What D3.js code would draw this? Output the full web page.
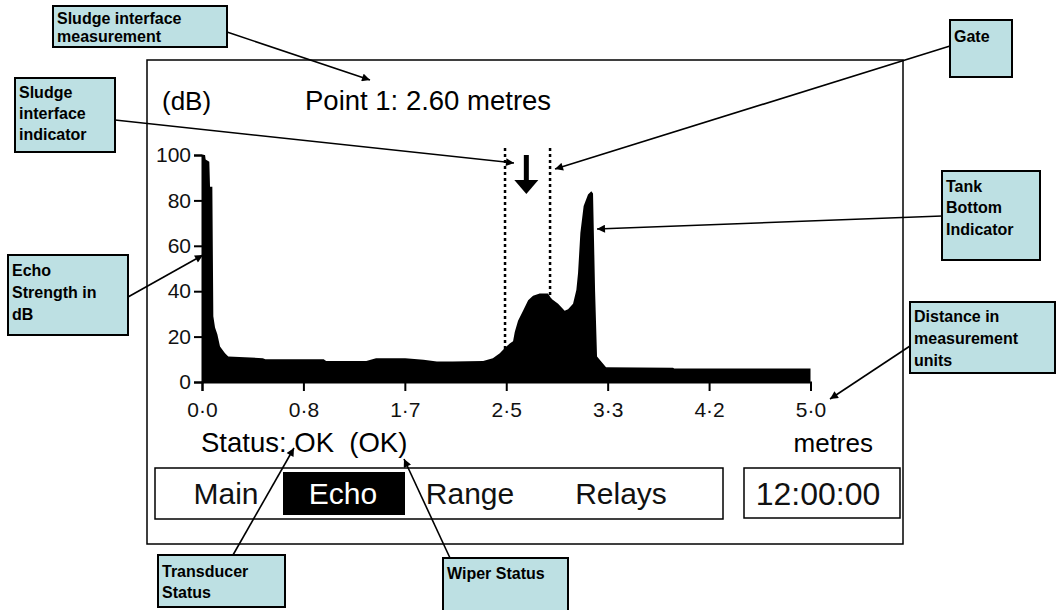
<!DOCTYPE html>
<html>
<head>
<meta charset="utf-8">
<script src="https://cdn.jsdelivr.net/npm/d3@7"></script>
<style>
  html, body { margin: 0; padding: 0; background: #fff; }
  svg { display: block; }
  text { font-family: "Liberation Sans", Arial, sans-serif; white-space: pre; }
</style>
</head>
<body>
<svg id="chart" width="1062" height="610"></svg>
<script>
// ---------------- DATA ----------------
const distance = [0, 0.025, 0.03, 0.06, 0.066, 0.085, 0.093, 0.107, 0.126, 0.148,
  0.189, 0.216, 0.5, 0.52, 1.0, 1.02, 1.35, 1.43, 1.67, 1.82,
  1.93, 2.06, 2.31, 2.39, 2.447, 2.488, 2.529, 2.556, 2.57, 2.597,
  2.638, 2.68, 2.72, 2.775, 2.843, 2.871, 2.926, 2.98, 3.008, 3.049,
  3.076, 3.09, 3.109, 3.136, 3.172, 3.199, 3.213, 3.23, 3.246, 3.28,
  3.32, 3.87, 3.88, 5.0];
const echoDb = [100, 100, 98, 97, 86, 86, 29, 24, 21, 15.6,
  12.7, 11.2, 10.5, 10, 10, 9.3, 9.3, 10.5, 10.5, 9.8,
  9, 9, 9.3, 10.5, 12.7, 15, 17, 18, 22, 27,
  31.4, 36, 38, 39, 39, 36.7, 34.5, 31.4, 32, 34.5,
  40.5, 48, 65.6, 77.5, 82.6, 84, 83, 40, 11.2, 9,
  6.5, 6.3, 6.0, 6.0];
const xTickValues = [0, 0.8333, 1.6667, 2.5, 3.3333, 4.1667, 5.0];
const xTickLabels = ["0\u00B70", "0\u00B78", "1\u00B77", "2\u00B75", "3\u00B73", "4\u00B72", "5\u00B70"];
const yTickValues = [0, 20, 40, 60, 80, 100];
const gate = [2.49, 2.86];
const interfaceIndicator = 2.665;
const headerTexts = ["(dB)", "Point 1: 2.60 metres"];
const statusText = "Status: OK  (OK)";
const unitText = "metres";
const menuItems = ["Main", "Echo", "Range", "Relays"];
const activeMenu = "Echo";
const clockText = "12:00:00";
const annotationLabels = [
  ["Sludge interface", "measurement"],
  ["Sludge", "interface", "indicator"],
  ["Gate"],
  ["Tank", "Bottom", "Indicator"],
  ["Distance in", "measurement", "units"],
  ["Echo", "Strength in", "dB"],
  ["Transducer", "Status"],
  ["Wiper Status"]
];

// ---------------- LAYOUT ----------------
const annotationLayout = [
  {box: [53, 6, 174, 41], base: [24, 42], from: [227, 32], to: [370, 80]},
  {box: [15, 78, 100, 74], base: [98, 119, 140], from: [115, 120], to: [514, 163]},
  {box: [950, 20, 62, 57], base: [42], from: [950, 46], to: [555, 169]},
  {box: [942, 171, 98, 89], base: [192, 213, 235], from: [942, 216], to: [597, 229]},
  {box: [910, 302, 145, 71], base: [322, 344, 366], from: [910, 346], to: [830, 399]},
  {box: [8, 255, 120, 80], base: [276, 298, 320], from: [128, 297], to: [203, 255]},
  {box: [158, 555, 127, 52], base: [577, 598], from: [233, 555], to: [294, 448]},
  {box: [443, 558, 125, 60], base: [579], from: [450, 558], to: [404, 459]}
];

const svg = d3.select("#chart");

const x = d3.scaleLinear().domain([0, 5]).range([202, 810.5]);
const y = d3.scaleLinear().domain([0, 100]).range([382, 155]);

// defs: arrow marker
svg.append("defs").append("marker")
  .attr("id", "ah")
  .attr("markerUnits", "userSpaceOnUse")
  .attr("viewBox", "0 0 10 10")
  .attr("refX", 10).attr("refY", 5)
  .attr("markerWidth", 10).attr("markerHeight", 8)
  .attr("orient", "auto")
  .append("path").attr("d", "M0,0 L10,5 L0,10 Z").attr("fill", "#000");

// outer frame
svg.append("rect")
  .attr("x", 147).attr("y", 60).attr("width", 756).attr("height", 484)
  .attr("fill", "none").attr("stroke", "#000").attr("stroke-width", 1.5);

// header texts
svg.append("text").attr("x", 162).attr("y", 110).attr("font-size", 26).text(headerTexts[0]);
svg.append("text").attr("x", 305).attr("y", 110).attr("font-size", 27.5).text(headerTexts[1]);

// gate lines (drawn under the echo fill)
svg.selectAll(".gate").data(gate).enter().append("line")
  .attr("class", "gate")
  .attr("x1", d => x(d)).attr("x2", d => x(d))
  .attr("y1", 148).attr("y2", y(0))
  .attr("stroke", "#000").attr("stroke-width", 2.5)
  .attr("stroke-dasharray", "3,3");

// echo profile
const pts = distance.map((d, i) => ({d: d, v: echoDb[i]}));
const area = d3.area()
  .x(p => x(p.d))
  .y0(y(0))
  .y1(p => y(p.v));
svg.append("path").datum(pts).attr("d", area).attr("fill", "#000");

// sludge interface indicator arrow
const ax = x(interfaceIndicator);
svg.append("rect").attr("x", ax - 2.5).attr("y", 155).attr("width", 5).attr("height", 28).attr("fill", "#000");
svg.append("path")
  .attr("d", `M${ax - 12},180 L${ax + 12},180 L${ax},194 Z`).attr("fill", "#000");

// axes
const yAxis = d3.axisLeft(y).tickValues(yTickValues).tickSize(8).tickPadding(3);
const gy = svg.append("g").attr("transform", `translate(${x(0)},0)`).call(yAxis);
const xAxis = d3.axisBottom(x).tickValues(xTickValues)
  .tickFormat((d, i) => xTickLabels[i]).tickSize(9).tickPadding(11);
const gx = svg.append("g").attr("transform", `translate(0,${y(0)})`).call(xAxis);
[gx, gy].forEach(g => {
  g.attr("font-family", null).attr("font-size", null);
  g.select(".domain").attr("stroke", "#000").attr("stroke-width", 2);
  g.selectAll(".tick line").attr("stroke", "#000").attr("stroke-width", 2);
  g.selectAll(".tick text").attr("font-size", 21).attr("fill", "#111")
    .style("font-family", "'Liberation Sans', Arial, sans-serif");
});

// status and unit
svg.append("text").attr("x", 201).attr("y", 452).attr("font-size", 27.5).text(statusText);
svg.append("text").attr("x", 873).attr("y", 452).attr("font-size", 26)
  .attr("text-anchor", "end").text(unitText);

// menu bar
svg.append("rect").attr("x", 155).attr("y", 468).attr("width", 568).attr("height", 51)
  .attr("fill", "none").attr("stroke", "#000").attr("stroke-width", 1.5);
const menuCenters = [226, 343, 470, 621];
menuItems.forEach((m, i) => {
  if (m === activeMenu) {
    svg.append("rect").attr("x", 283).attr("y", 472).attr("width", 122).attr("height", 43).attr("fill", "#000");
  }
  svg.append("text").attr("x", menuCenters[i]).attr("y", 504)
    .attr("text-anchor", "middle").attr("font-size", 30)
    .attr("fill", m === activeMenu ? "#fff" : "#111").text(m);
});

// clock
svg.append("rect").attr("x", 744).attr("y", 468).attr("width", 156).attr("height", 50)
  .attr("fill", "none").attr("stroke", "#000").attr("stroke-width", 1.5);
svg.append("text").attr("x", 818).attr("y", 505).attr("text-anchor", "middle")
  .attr("font-size", 32).attr("fill", "#111").text(clockText);

// annotations
annotationLabels.forEach((lines, i) => {
  const L = annotationLayout[i];
  svg.append("line")
    .attr("x1", L.from[0]).attr("y1", L.from[1])
    .attr("x2", L.to[0]).attr("y2", L.to[1])
    .attr("stroke", "#000").attr("stroke-width", 1.6)
    .attr("marker-end", "url(#ah)");
  svg.append("rect")
    .attr("x", L.box[0]).attr("y", L.box[1]).attr("width", L.box[2]).attr("height", L.box[3])
    .attr("fill", "#bde0e3").attr("stroke", "#000").attr("stroke-width", 2);
  lines.forEach((t, j) => {
    svg.append("text").attr("x", L.box[0] + 4).attr("y", L.base[j])
      .attr("font-size", 16).attr("font-weight", "bold").attr("fill", "#000").text(t);
  });
});
</script>
</body>
</html>
